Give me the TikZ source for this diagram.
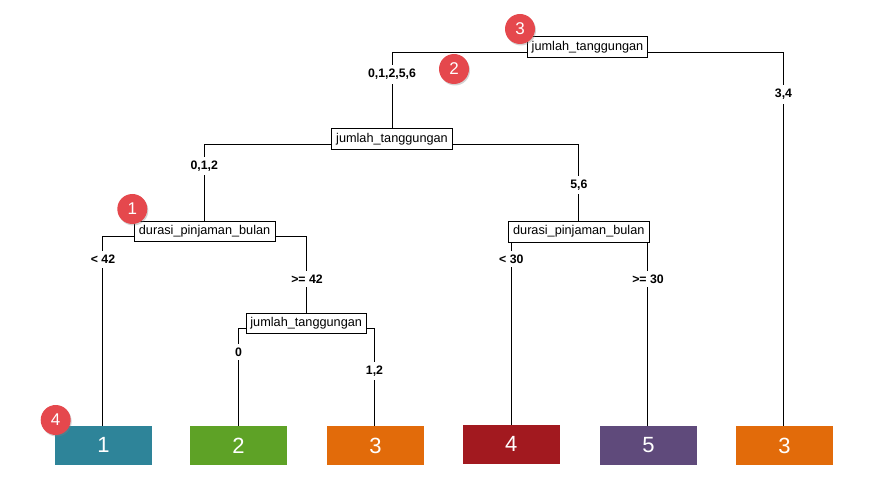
\documentclass[tikz,border=0pt]{standalone}
\usepackage{fontspec}
\setmainfont{Liberation Sans}
\usetikzlibrary{shadows,backgrounds}
\definecolor{badge}{HTML}{E5484D}
\definecolor{cteal}{HTML}{2E8499}
\definecolor{cgreen}{HTML}{5EA226}
\definecolor{corange}{HTML}{E26B0A}
\definecolor{cred}{HTML}{A2191F}
\definecolor{cpurple}{HTML}{5F4A7B}
\tikzset{
  split/.style={draw=black, line width=0.9pt, fill=white, inner sep=0pt,
    minimum height=20.5pt, font=\fontsize{12.7}{14}\selectfont},
  cond/.style={fill=white, inner xsep=2pt, inner ysep=4pt,
    font=\bfseries\fontsize{12.3}{13}\selectfont},
  leaf/.style={fill=#1, draw=none, minimum width=97pt, minimum height=38.7pt,
    inner sep=0pt, text=white, font=\fontsize{22}{24}\selectfont},
  badgenode/.style={circle, fill=badge, minimum size=30pt, inner sep=0pt,
    text=white, font=\fontsize{17}{18}\selectfont,
    drop shadow={opacity=0.35, shadow xshift=1pt, shadow yshift=-1.5pt}},
  branch/.style={draw=black, line width=0.9pt},
}
\begin{document}
\begin{tikzpicture}[x=1pt, y=-1pt]
\useasboundingbox (0,0) rectangle (886,489);

% split nodes
\node[split, minimum width=119.6pt] (root) at (587.5,47) {jumlah\_tanggungan};
\node[split, minimum width=120.6pt] (n2) at (392,139) {jumlah\_tanggungan};
\node[split, minimum width=140.7pt] (n3) at (204.6,231.5) {durasi\_pinjaman\_bulan};
\node[split, minimum width=141pt] (n4) at (578.8,231.7) {durasi\_pinjaman\_bulan};
\node[split, minimum width=119.7pt] (n5) at (306.2,323.5) {jumlah\_tanggungan};

% leaves
\node[leaf=cteal]   (l1) at (103.5,445.3) {1};
\node[leaf=cgreen]  (l2) at (238.5,445.5) {2};
\node[leaf=corange] (l3) at (375.5,445.5) {3};
\node[leaf=cred]    (l4) at (511.3,444.3) {4};
\node[leaf=cpurple] (l5) at (648.5,445.5) {5};
\node[leaf=corange] (l6) at (784.5,445.5) {3};

% branch conditions
\node[cond] (c1) at (392,74.5) {0,1,2,5,6};
\node[cond] (c2) at (783.5,94.5) {3,4};
\node[cond] (c3) at (204.3,166) {0,1,2};
\node[cond] (c4) at (578.8,185) {5,6};
\node[cond] (c5) at (103,259.5) {< 42};
\node[cond] (c6) at (307,279) {>= 42};
\node[cond] (c7) at (238.5,352) {0};
\node[cond] (c8) at (374.5,371) {1,2};
\node[cond] (c9) at (511.3,259) {< 30};
\node[cond] (c10) at (648,279) {>= 30};

% numbered markers
\node[badgenode] (b3) at (520,29) {3};
\node[badgenode] (b2) at (454,69) {2};
\node[badgenode] (b1) at (132.3,209) {1};
\node[badgenode] (b4) at (55.7,420) {4};

% connectors behind the boxes and labels
\begin{scope}[on background layer]
\draw[branch] ([yshift=-5pt]root.center) -| (n2.north);
\draw[branch] ([yshift=-5pt]root.center) -| ([xshift=-1pt]l6.north);
\draw[branch] ([yshift=-5pt]n2.center) -| (n3.north);
\draw[branch] ([yshift=-5pt]n2.center) -| (n4.north);
\draw[branch] ([yshift=-5pt]n3.center) -| ([xshift=-1pt]l1.north);
\draw[branch] ([yshift=-5pt]n3.center) -| (n5.north);
\draw[branch] ([yshift=-5pt]n5.center) -| (l2.north);
\draw[branch] ([yshift=-5pt]n5.center) -| ([xshift=-1pt]l3.north);
\draw[branch] ([yshift=-5pt]n4.center) -| (l4.north);
\draw[branch] ([yshift=-5pt]n4.center) -| ([xshift=-0.8pt]l5.north);
\end{scope}
\end{tikzpicture}
\end{document}
